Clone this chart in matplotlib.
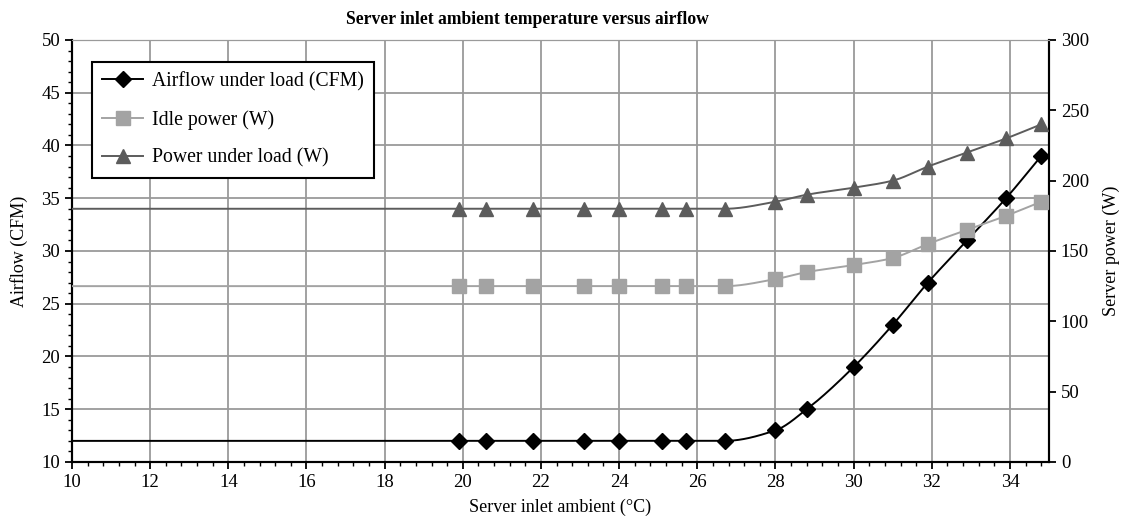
import numpy as np
import matplotlib.pyplot as plt
from matplotlib.ticker import MultipleLocator

plt.rcParams['font.family'] = ['Liberation Serif', 'DejaVu Serif']

# measured points
temp = [19.9, 20.6, 21.8, 23.1, 24.0, 25.1, 25.7, 26.7, 28.0, 28.8, 30.0, 31.0, 31.9, 32.9, 33.9, 34.8]
airflow = [12, 12, 12, 12, 12, 12, 12, 12, 13, 15, 19, 23, 27, 31, 35, 39]
idle_power = [125, 125, 125, 125, 125, 125, 125, 125, 130, 135, 140, 145, 155, 165, 175, 185]
load_power = [180, 180, 180, 180, 180, 180, 180, 180, 185, 190, 195, 200, 210, 220, 230, 240]
line_start = 10  # lines run back flat to the left edge


def smooth(x, y, n=40):
    # monotone cubic (Fritsch-Carlson) so the curve has no overshoot
    x = np.asarray(x, float)
    y = np.asarray(y, float)
    h = np.diff(x)
    d = np.diff(y) / h
    m = np.zeros_like(y)
    m[0], m[-1] = d[0], d[-1]
    for i in range(1, len(x) - 1):
        if d[i - 1] * d[i] > 0:
            w1 = 2 * h[i] + h[i - 1]
            w2 = h[i] + 2 * h[i - 1]
            m[i] = (w1 + w2) / (w1 / d[i - 1] + w2 / d[i])
    xs, ys = [], []
    for i in range(len(x) - 1):
        t = np.linspace(0, 1, n, endpoint=False)
        h00 = 2 * t**3 - 3 * t**2 + 1
        h10 = t**3 - 2 * t**2 + t
        h01 = -2 * t**3 + 3 * t**2
        h11 = t**3 - t**2
        xs.append(x[i] + t * h[i])
        ys.append(h00 * y[i] + h10 * h[i] * m[i] + h01 * y[i + 1] + h11 * h[i] * m[i + 1])
    xs.append([x[-1]])
    ys.append([y[-1]])
    return np.concatenate(xs), np.concatenate(ys)


fig = plt.figure(figsize=(11.32, 5.26), dpi=100)
ax = fig.add_axes([0.0636, 0.1217, 0.8631, 0.8023])
ax2 = ax.twinx()

c_air = 'black'
c_idle = '#a3a3a3'
c_load = '#5c5c5c'

xa, ya = smooth([line_start] + temp, [airflow[0]] + airflow)
ax.plot(xa, ya, color=c_air, lw=1.4, zorder=3)
ax.plot(temp, airflow, ls='none', marker='D', ms=8, color=c_air, zorder=4)

xi, yi = smooth([line_start] + temp, [idle_power[0]] + idle_power)
ax2.plot(xi, yi, color=c_idle, lw=1.4, zorder=3)
ax2.plot(temp, idle_power, ls='none', marker='s', ms=10, color=c_idle, zorder=4)

xl, yl = smooth([line_start] + temp, [load_power[0]] + load_power)
ax2.plot(xl, yl, color=c_load, lw=1.4, zorder=3)
ax2.plot(temp, load_power, ls='none', marker='^', ms=10, color=c_load, zorder=4)

ax.set_xlim(10, 35)
ax.set_ylim(10, 50)
ax2.set_ylim(0, 300)

ax.xaxis.set_major_locator(MultipleLocator(2))
ax.xaxis.set_minor_locator(MultipleLocator(0.4))
ax.yaxis.set_major_locator(MultipleLocator(5))
ax.yaxis.set_minor_locator(MultipleLocator(1))
ax2.yaxis.set_major_locator(MultipleLocator(50))

ax.grid(True, which='major', color='#9a9a9a', lw=1.3)
ax.set_axisbelow(True)

ax.tick_params(axis='both', which='major', labelsize=13.5, length=5, width=1.3, direction='out')
ax.tick_params(axis='both', which='minor', length=3, width=1.0, direction='out')
ax2.tick_params(axis='y', which='major', labelsize=13.5, length=5, width=1.3, direction='out')

for s in ['left', 'bottom', 'right']:
    ax2.spines[s].set_linewidth(1.5)
    ax.spines[s].set_linewidth(1.5)
ax.spines['top'].set_color('#9a9a9a')
ax2.spines['top'].set_color('#9a9a9a')

ax.set_xlabel('Server inlet ambient (°C)', fontsize=13, labelpad=6)
ax.set_ylabel('Airflow (CFM)', fontsize=13, labelpad=10)
ax2.set_ylabel('Server power (W)', fontsize=13, labelpad=10)
fig.text(0.4656, 0.962, 'Server inlet ambient temperature versus airflow', fontsize=12.7,
         fontweight='bold', ha='center', va='center')

handles = [
    plt.Line2D([], [], color=c_air, lw=1.4, marker='D', ms=8),
    plt.Line2D([], [], color=c_idle, lw=1.4, marker='s', ms=10),
    plt.Line2D([], [], color=c_load, lw=1.4, marker='^', ms=10),
]
labels = ['Airflow under load (CFM)', 'Idle power (W)', 'Power under load (W)']
leg = ax2.legend(handles, labels, loc='upper left', bbox_to_anchor=(0.0205, 0.948),
                 fontsize=14.2, frameon=True, fancybox=False, framealpha=1,
                 edgecolor='black', handlelength=2.1, handletextpad=0.45,
                 borderpad=0.5, borderaxespad=0, labelspacing=0.95)
leg.get_frame().set_linewidth(1.5)

fig.savefig('out.png', dpi=100)
